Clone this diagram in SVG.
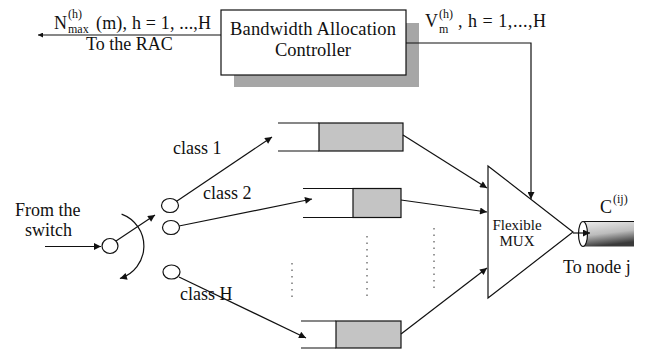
<svg xmlns="http://www.w3.org/2000/svg" width="646" height="353" viewBox="0 0 646 353">
<style>
text{font-family:"Liberation Serif","Times New Roman",serif;font-size:18px;fill:#111}
.big{font-size:18.5px}
.sm{font-size:12px}
.mux{font-size:15px}
.ln{stroke:#111;stroke-width:1.2;fill:none}
.arr{stroke:#111;stroke-width:1.2;fill:none;marker-end:url(#ah)}
.q{fill:#c4c4c4;stroke:#111;stroke-width:1.2}
.dot{stroke:#333;stroke-width:1;stroke-dasharray:1.5 5;fill:none}
</style>
<defs>
<marker id="ah" viewBox="0 0 10 10" refX="10" refY="5" markerWidth="11" markerHeight="7" markerUnits="userSpaceOnUse" orient="auto">
<path d="M0,0 L10,5 L0,10 Z" fill="#111"/>
</marker>
<marker id="ahs" viewBox="0 0 10 10" refX="10" refY="5" markerWidth="8" markerHeight="5" markerUnits="userSpaceOnUse" orient="auto">
<path d="M0,0 L10,5 L0,10 Z" fill="#111"/>
</marker>
<linearGradient id="cyl" x1="0" y1="0" x2="0.25" y2="1">
<stop offset="0" stop-color="#ececec"/>
<stop offset="0.55" stop-color="#bcbcbc"/>
<stop offset="1" stop-color="#3a3a3a"/>
</linearGradient>
</defs>

<g id="controller">
<rect x="234" y="23" width="185" height="64" fill="#a6a6a6"/>
<rect x="221" y="10" width="185" height="65" fill="#fff" stroke="#111" stroke-width="1.2"/>
<text x="313" y="35" text-anchor="middle" class="big" textLength="166">Bandwidth Allocation</text>
<text x="313" y="56" text-anchor="middle" class="big">Controller</text>
</g>

<g id="label-left">
<text x="54" y="29">N</text>
<text x="68" y="18" class="sm">(h)</text>
<text x="68" y="33" class="sm">max</text>
<text x="96" y="29" textLength="115">(m), h = 1, ...,H</text>
<text x="86" y="50">To the RAC</text>
</g>

<g id="label-right">
<text x="425" y="27">V</text>
<text x="439" y="18" class="sm">(h)</text>
<text x="439" y="33" class="sm">m</text>
<text x="458" y="27" textLength="88">, h = 1,...,H</text>
</g>

<g id="source">
<text x="15" y="216">From the</text>
<text x="25" y="236">switch</text>
<ellipse cx="110" cy="246" rx="8" ry="7.5" fill="#fff" stroke="#111" stroke-width="1.2"/>
</g>

<g id="outputs">
<ellipse cx="170" cy="205.5" rx="8.5" ry="7" fill="#fff" stroke="#111" stroke-width="1.2"/>
<ellipse cx="171" cy="227.5" rx="8.5" ry="7" fill="#fff" stroke="#111" stroke-width="1.2"/>
<ellipse cx="171.5" cy="272" rx="8.5" ry="7" fill="#fff" stroke="#111" stroke-width="1.2"/>
<text x="173" y="154">class 1</text>
<text x="203" y="199">class 2</text>
<text x="180" y="300">class H</text>
</g>

<g id="queue1">
<line class="ln" x1="278" y1="123" x2="319" y2="123"/>
<line class="ln" x1="278" y1="151" x2="319" y2="151"/>
<rect class="q" x="319" y="123" width="84" height="28"/>
</g>
<g id="queue2">
<line class="ln" x1="303" y1="188.5" x2="353" y2="188.5"/>
<line class="ln" x1="303" y1="217.5" x2="353" y2="217.5"/>
<rect class="q" x="353" y="188.5" width="48" height="29"/>
</g>
<g id="queueH">
<line class="ln" x1="301" y1="321" x2="336" y2="321"/>
<line class="ln" x1="301" y1="348" x2="336" y2="348"/>
<rect class="q" x="336" y="321" width="65" height="27"/>
</g>

<g id="dots">
<line class="dot" x1="292" y1="263" x2="292" y2="297"/>
<line class="dot" x1="367" y1="236" x2="367" y2="297"/>
<line class="dot" x1="434" y1="228" x2="434" y2="288"/>
</g>

<g id="mux">
<polygon points="488,166 488,298 573,232" fill="#fff" stroke="#111" stroke-width="1.2"/>
<text x="517" y="230" text-anchor="middle" class="mux">Flexible</text>
<text x="517" y="246" text-anchor="middle" class="mux">MUX</text>
</g>

<g id="link">
<rect x="583" y="221.5" width="51" height="25" fill="url(#cyl)"/>
<line class="ln" x1="583" y1="221.5" x2="634" y2="221.5"/>
<ellipse cx="583" cy="234" rx="4.5" ry="12.5" fill="#fff" stroke="#111" stroke-width="1.2"/>
<text x="600" y="213">C</text>
<text x="613" y="203" class="sm">(ij)</text>
<text x="563" y="273">To node j</text>
</g>

<g id="connectors">
<line x1="221" y1="35" x2="38" y2="35" class="ln" marker-end="url(#ahs)"/>
<polyline points="406,43 531,43 531,199" class="arr"/>
<line class="arr" x1="45" y1="246.5" x2="101" y2="246.5"/>
<line class="arr" x1="116" y1="241" x2="155" y2="215"/>
<path class="arr" d="M121.6,214.1 A34,34 0 0 1 119.9,278.5"/>
<line class="arr" x1="177" y1="201" x2="272" y2="137"/>
<line class="arr" x1="179" y1="226" x2="312" y2="199"/>
<line class="arr" x1="179" y1="277" x2="306" y2="338"/>
<line class="arr" x1="403" y1="135" x2="487" y2="188"/>
<line class="arr" x1="401" y1="200" x2="487" y2="212"/>
<line class="arr" x1="401" y1="334" x2="487" y2="268"/>
<line class="arr" x1="573" y1="233" x2="590" y2="233"/>
</g>
</svg>
